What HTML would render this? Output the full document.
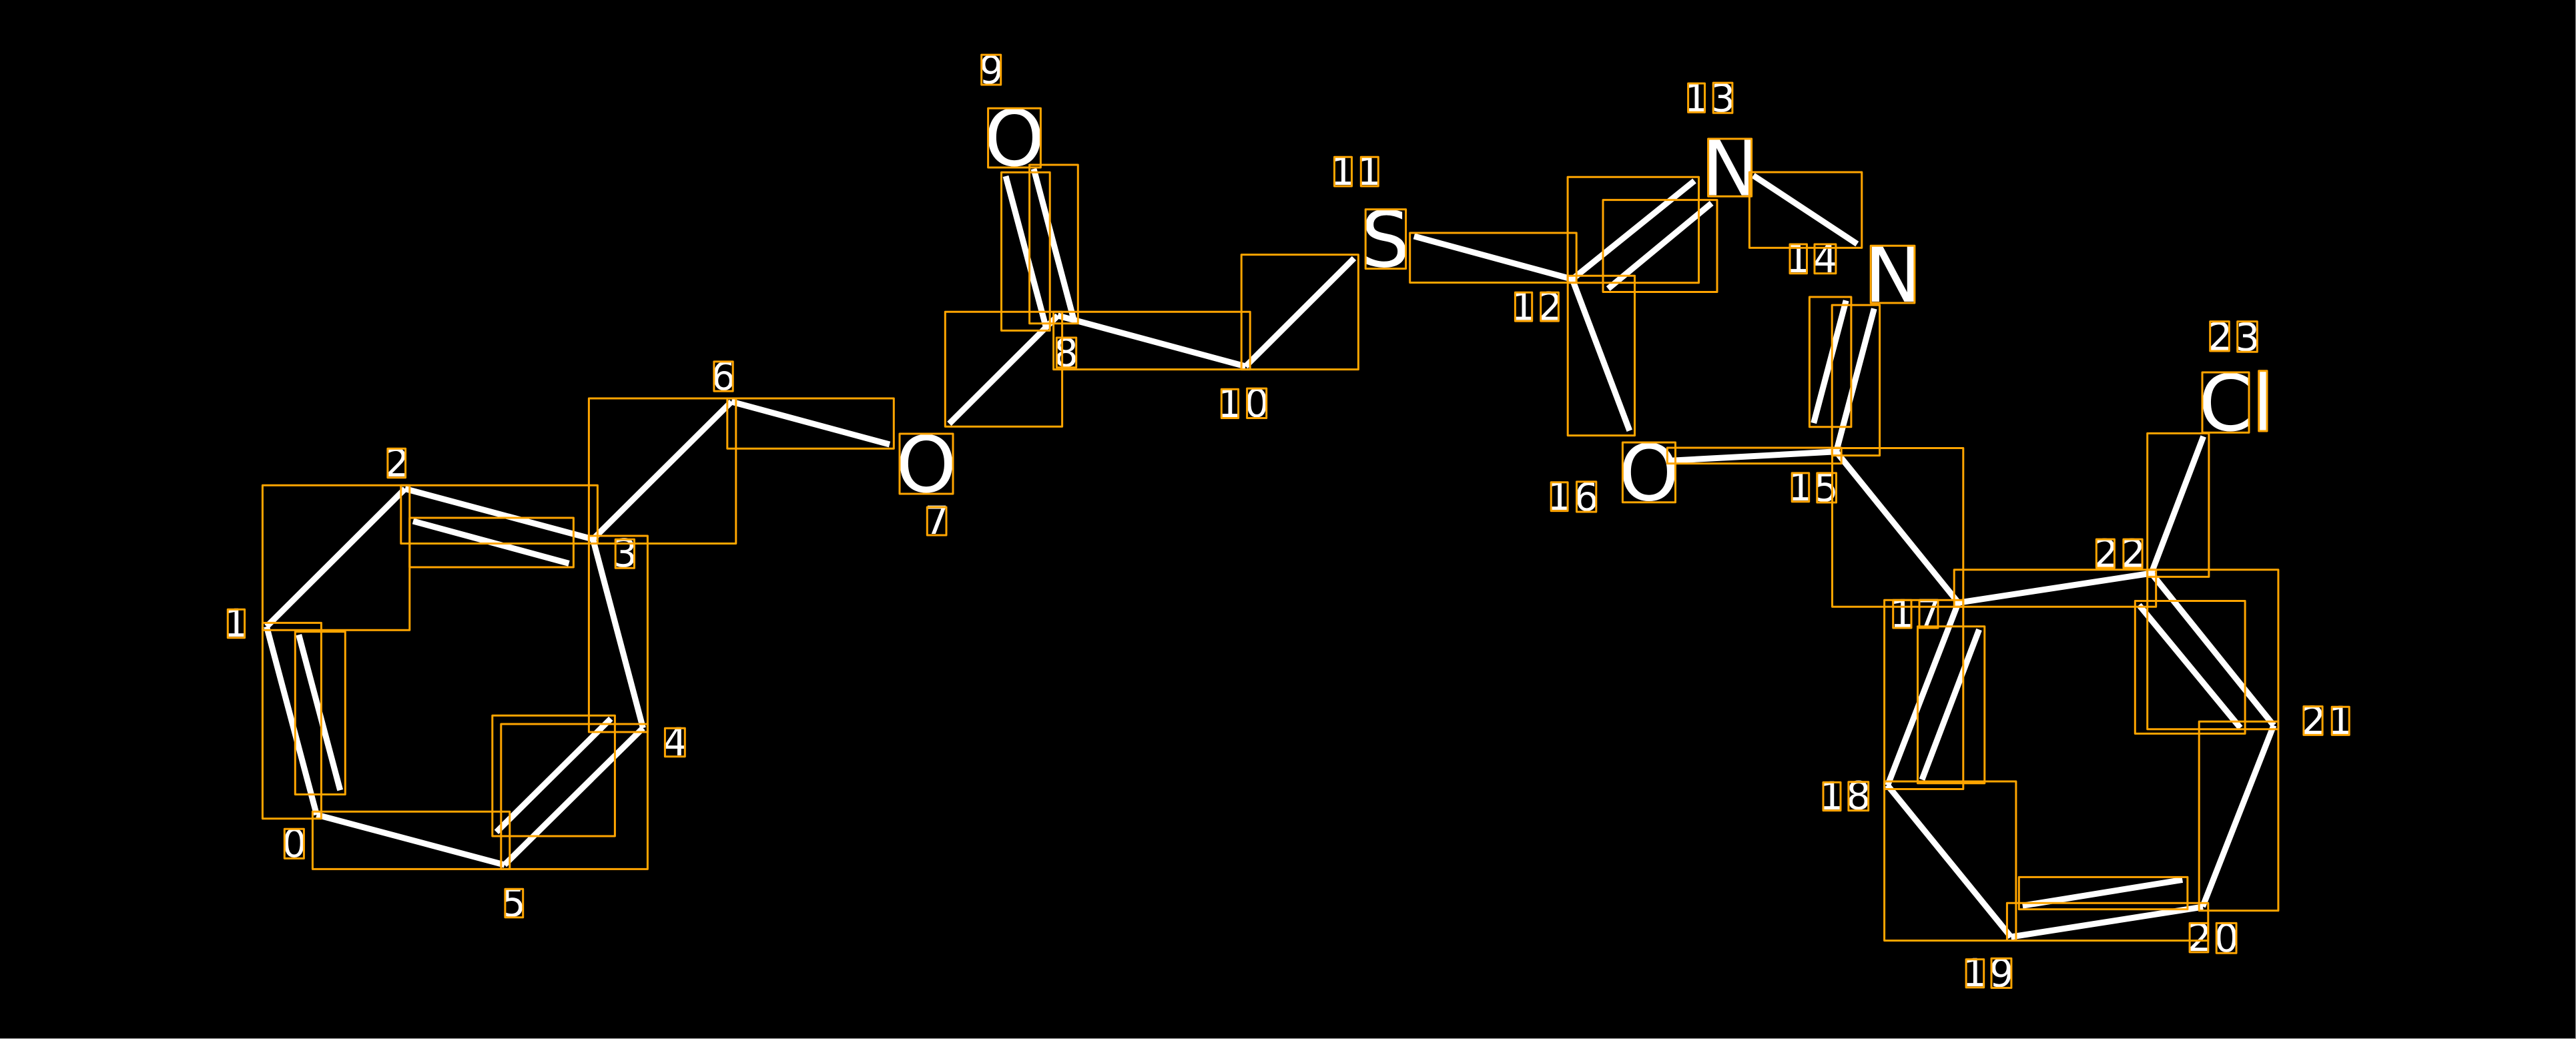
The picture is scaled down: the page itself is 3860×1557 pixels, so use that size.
<!DOCTYPE html>
<html><head><meta charset="utf-8"><style>
html,body{margin:0;padding:0;background:#000;width:3860px;height:1557px;overflow:hidden}
svg{display:block}
text{font-family:"DejaVu Sans",sans-serif;fill:#fff}
.d{font-size:58px}.b{font-size:116px}
.o rect{fill:none;stroke:#ffa500;stroke-width:3;stroke-linejoin:round}
.w line{stroke:#fff;stroke-width:9;stroke-linecap:butt}
</style></head><body>
<svg width="3860" height="1557" viewBox="0 0 3860 1557" xmlns="http://www.w3.org/2000/svg">
<rect width="3860" height="1557" fill="#000"/>
<rect x="0" y="1556" width="3860" height="1" fill="#bbb"/>
<rect x="3859" y="0" width="1" height="1557" fill="#999"/>
<g class="w">
<line x1="474.5" y1="1221" x2="399.5" y2="939"/>
<line x1="509.7" y1="1184.2" x2="447.7" y2="951.2"/>
<line x1="399.5" y1="939" x2="606.9" y2="732.5"/>
<line x1="606.9" y1="732.5" x2="888.5" y2="808"/>
<line x1="619" y1="781" x2="852.5" y2="844.4"/>
<line x1="888.5" y1="808" x2="963.5" y2="1091"/>
<line x1="963.5" y1="1091" x2="756" y2="1296"/>
<line x1="915.3" y1="1076.9" x2="743.9" y2="1246.8"/>
<line x1="756" y1="1296" x2="474.5" y2="1221"/>
<line x1="888.5" y1="808" x2="1096" y2="602"/>
<line x1="1096" y1="602" x2="1333" y2="666"/>
<line x1="1422.4" y1="635" x2="1585" y2="473"/>
<line x1="1609" y1="479" x2="1549" y2="253"/>
<line x1="1567" y1="489" x2="1507" y2="264"/>
<line x1="1585" y1="473" x2="1866.5" y2="549"/>
<line x1="1866.5" y1="549" x2="2029" y2="387"/>
<line x1="2118.9" y1="354" x2="2356" y2="418.4"/>
<line x1="2356" y1="418.4" x2="2539" y2="271"/>
<line x1="2409.7" y1="432.6" x2="2564.7" y2="304.5"/>
<line x1="2356" y1="418.4" x2="2441.8" y2="645.4"/>
<line x1="2627.2" y1="263" x2="2782.8" y2="365.6"/>
<line x1="2766.2" y1="450.4" x2="2717.7" y2="634"/>
<line x1="2808.3" y1="462.5" x2="2751.5" y2="676.8"/>
<line x1="2751.5" y1="676.8" x2="2504" y2="690.2"/>
<line x1="2751.5" y1="677" x2="2934.5" y2="903.2"/>
<line x1="2934.5" y1="903.2" x2="3223.7" y2="859"/>
<line x1="3223.7" y1="859" x2="3301.7" y2="654"/>
<line x1="3223.7" y1="859" x2="3407" y2="1087"/>
<line x1="3205.2" y1="906.6" x2="3357" y2="1090.7"/>
<line x1="3407" y1="1087" x2="3300.6" y2="1358.6"/>
<line x1="3301" y1="1359" x2="3013.3" y2="1404"/>
<line x1="3030.7" y1="1357.2" x2="3270.3" y2="1318.4"/>
<line x1="3013.3" y1="1404" x2="2828" y2="1176.4"/>
<line x1="2934.5" y1="903" x2="2828.5" y2="1177"/>
<line x1="2965.6" y1="943.4" x2="2880" y2="1168.4"/>
</g>
<g>
<text class="d" x="422.4" y="1284">0</text>
<text class="d" x="335" y="954">1</text>
<text class="d" x="576.5" y="714">2</text>
<text class="d" x="918" y="849">3</text>
<text class="d" x="993.1" y="1132">4</text>
<text class="d" x="751" y="1373">5</text>
<text class="d" x="1065.4" y="584">6</text>
<text class="d" x="1385.2" y="800">7</text>
<text class="d" x="1578.9" y="549">8</text>
<text class="d" x="1467" y="125">9</text>
<text class="d" x="1824" y="625">1</text><text class="d" x="1864.7" y="624.5">0</text>
<text class="d" x="1993.5" y="277">1</text><text class="d" x="2033.3" y="277">1</text>
<text class="d" x="2264" y="479.5">1</text><text class="d" x="2304.3" y="479.5">2</text>
<text class="d" x="2523" y="167">1</text><text class="d" x="2563.2" y="167">3</text>
<text class="d" x="2675.7" y="408">1</text><text class="d" x="2716.8" y="408">4</text>
<text class="d" x="2679" y="750">1</text><text class="d" x="2717.9" y="751">5</text>
<text class="d" x="2317.7" y="764">1</text><text class="d" x="2358.5" y="765">6</text>
<text class="d" x="2831.7" y="940">1</text><text class="d" x="2871.8" y="940">7</text>
<text class="d" x="2726" y="1213">1</text><text class="d" x="2766.4" y="1212.5">8</text>
<text class="d" x="2940.4" y="1478">1</text><text class="d" x="2980.8" y="1478.5">9</text>
<text class="d" x="3277.3" y="1425">2</text><text class="d" x="3317.7" y="1426">0</text>
<text class="d" x="3448.3" y="1100">2</text><text class="d" x="3488.2" y="1100">1</text>
<text class="d" x="3137.2" y="849.5">2</text><text class="d" x="3178.3" y="849.5">2</text>
<text class="d" x="3308.3" y="524.5">2</text><text class="d" x="3349.2" y="525.5">3</text>
<text class="b" x="1342.3" y="737">O</text>
<text class="b" x="1474.3" y="248">O</text>
<text class="b" x="2039" y="399.5">S</text>
<text class="b" x="2549.6" y="292.5">N</text>
<text class="b" x="2793.5" y="452">N</text>
<text class="b" x="2425.3" y="749.5">O</text>
<text class="b" x="3294.4" y="645">C</text>
<text class="b" x="3374.8" y="644.5">l</text>
</g>
<g class="o">
<rect x="393.4" y="727.3" width="220.4" height="217"/>
<rect x="600.8" y="727.3" width="294.6" height="87.2"/>
<rect x="613.8" y="776" width="245.6" height="74"/>
<rect x="882.4" y="597" width="220.4" height="217.5"/>
<rect x="1089.8" y="597" width="249.5" height="75.2"/>
<rect x="882.4" y="803" width="88" height="294"/>
<rect x="750.8" y="1085" width="219.6" height="217.4"/>
<rect x="737.8" y="1072.3" width="183.6" height="180.7"/>
<rect x="468.4" y="1216.3" width="295.4" height="86.1"/>
<rect x="393.4" y="933.4" width="88" height="293.3"/>
<rect x="442.3" y="946.6" width="75" height="243.9"/>
<rect x="1542.6" y="247" width="72.7" height="237.7"/>
<rect x="1500.5" y="258.2" width="72.7" height="237.2"/>
<rect x="1416.3" y="467.3" width="175.3" height="172"/>
<rect x="1578.6" y="467.3" width="294.6" height="86.3"/>
<rect x="1860.2" y="381.6" width="175.2" height="172"/>
<rect x="2112.7" y="349" width="249.5" height="74.5"/>
<rect x="2349.2" y="413.3" width="100.3" height="239.3"/>
<rect x="2349.1" y="265.2" width="196.4" height="158.5"/>
<rect x="2402" y="299.6" width="171" height="137.9"/>
<rect x="2621.4" y="258" width="168.4" height="113.4"/>
<rect x="2711.4" y="445" width="62.5" height="194.7"/>
<rect x="2745.2" y="457.1" width="71.4" height="225.5"/>
<rect x="2498.3" y="671" width="260.9" height="23.6"/>
<rect x="2745.5" y="671.5" width="196.3" height="237.7"/>
<rect x="2928.2" y="853.7" width="302.5" height="55.5"/>
<rect x="3217.7" y="649.4" width="92.2" height="215"/>
<rect x="3217.7" y="853.7" width="196.2" height="239"/>
<rect x="3199.3" y="900.5" width="164.8" height="198.9"/>
<rect x="3295.2" y="1081.3" width="118.7" height="283.3"/>
<rect x="3007.4" y="1353.2" width="301.4" height="56.3"/>
<rect x="3025.3" y="1314.4" width="252.6" height="48.2"/>
<rect x="2823.6" y="1171" width="197.3" height="238.5"/>
<rect x="2823.6" y="899.2" width="118.2" height="283.3"/>
<rect x="2873.5" y="938.7" width="100.3" height="235.1"/>

<rect x="426.3" y="1242.2" width="29.1" height="44.2"/>
<rect x="341.3" y="913.3" width="25.3" height="42.5"/>
<rect x="580.9" y="672.2" width="26.7" height="43.6"/>
<rect x="922.2" y="808.2" width="28.3" height="43.1"/>
<rect x="996.4" y="1091.2" width="29.9" height="42.5"/>
<rect x="756.9" y="1332.3" width="26.8" height="42.5"/>
<rect x="1069.9" y="541.9" width="28.3" height="44.2"/>
<rect x="1389.3" y="760" width="28.7" height="42"/>
<rect x="1583.3" y="506" width="29.4" height="44.7"/>
<rect x="1470.7" y="82.1" width="29" height="44.9"/>
<rect x="1830.3" y="583.2" width="25.3" height="43.3"/>
<rect x="1868.6" y="582.1" width="29.1" height="44.4"/>
<rect x="1999.5" y="235.2" width="26" height="43.8"/>
<rect x="2039.3" y="235.2" width="26" height="43.8"/>
<rect x="2270.4" y="438.3" width="25.3" height="42.8"/>
<rect x="2308.7" y="438.3" width="26.7" height="42.8"/>
<rect x="2529.6" y="125" width="24.9" height="43.3"/>
<rect x="2567.2" y="124.1" width="28.7" height="45.1"/>
<rect x="2682" y="366" width="25.5" height="43.8"/>
<rect x="2719" y="366" width="31.9" height="43.8"/>
<rect x="2685.2" y="708.9" width="25.5" height="42.9"/>
<rect x="2722.8" y="708.9" width="28.7" height="44.1"/>
<rect x="2324.2" y="722.8" width="24.9" height="42.8"/>
<rect x="2362.5" y="721.9" width="29.3" height="45.1"/>
<rect x="2836.7" y="899.3" width="27.3" height="41.7"/>
<rect x="2876" y="899.3" width="28" height="41.7"/>
<rect x="2732" y="1172.4" width="26" height="42.2"/>
<rect x="2769.9" y="1171.8" width="29.8" height="42.8"/>
<rect x="2946.1" y="1437.6" width="26.6" height="42.2"/>
<rect x="2984" y="1436.3" width="29.9" height="44.1"/>
<rect x="3281.1" y="1383.4" width="27.7" height="43.5"/>
<rect x="3321.2" y="1383.4" width="29.8" height="44.8"/>
<rect x="3451.9" y="1058.6" width="28.2" height="42.8"/>
<rect x="3494.2" y="1059.2" width="26" height="42.2"/>
<rect x="3141.3" y="808.1" width="27.1" height="42.9"/>
<rect x="3181.9" y="808.1" width="28.2" height="42.9"/>
<rect x="3311.7" y="481.7" width="28.6" height="44.3"/>
<rect x="3352.7" y="481.7" width="29.6" height="45.6"/>

<rect x="1348" y="650" width="80" height="90"/>
<rect x="1480.6" y="162.2" width="78.8" height="88.8"/>
<rect x="2046.2" y="313.8" width="60.4" height="88.8"/>
<rect x="2559.6" y="208" width="65" height="86.2"/>
<rect x="2803.2" y="368.3" width="65.7" height="85.7"/>
<rect x="2431.4" y="663" width="79.1" height="89.7"/>
<rect x="3300" y="558" width="70" height="90.3"/>
<rect x="3384.7" y="555.7" width="12.3" height="90.3"/>
</g>
</svg>
</body></html>
